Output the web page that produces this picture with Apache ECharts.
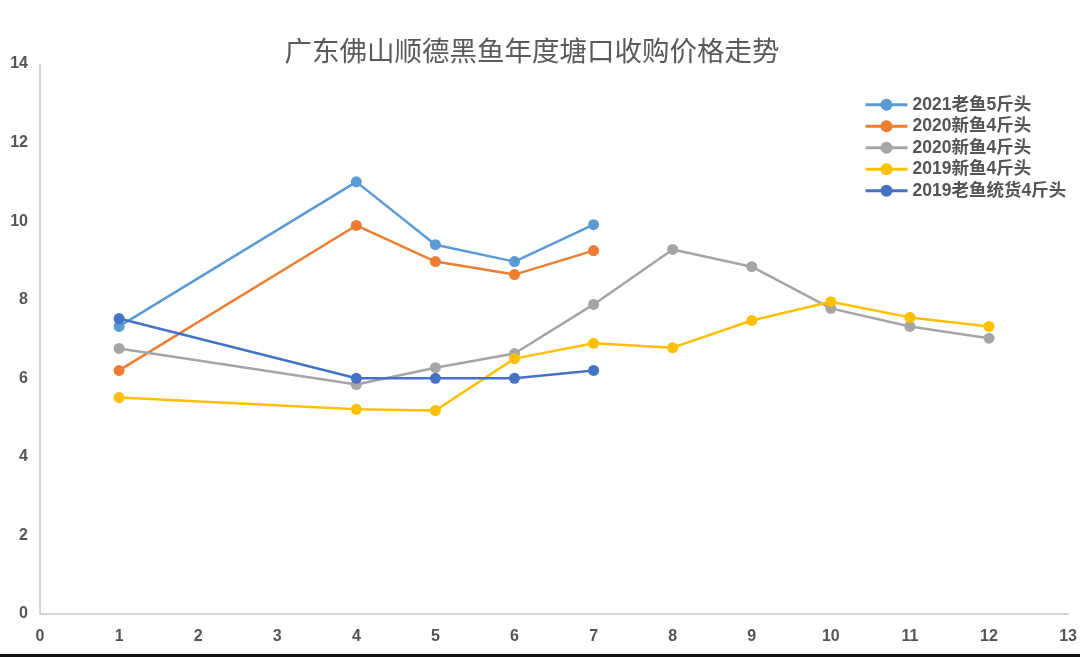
<!DOCTYPE html>
<html><head><meta charset="utf-8">
<script src="https://cdn.jsdelivr.net/npm/echarts@6/dist/echarts.min.js"></script>
<style>html,body{margin:0;padding:0;background:#fff}#c{width:1080px;height:657px}</style>
</head><body><div id="c"></div>
<script>
const seriesNames = ['2021老鱼5斤头','2020新鱼4斤头','2020新鱼4斤头','2019新鱼4斤头','2019老鱼统货4斤头'];
const colors = ['#5B9BD5','#ED7D31','#A5A5A5','#FFC000','#4472C4'];
const xs2021 = [1,4,5,6,7];
const v2021old5 = [7.32,11.0,9.4,8.97,9.91];
const xs2020a = [1,4,5,6,7];
const v2020new4a = [6.2,9.89,8.97,8.64,9.25];
const xs2020b = [1,4,5,6,7,8,9,10,11,12];
const v2020new4b = [6.76,5.84,6.27,6.63,7.88,9.28,8.84,7.78,7.32,7.02];
const xs2019 = [1,4,5,6,7,8,9,10,11,12];
const v2019new4 = [5.51,5.21,5.18,6.5,6.89,6.78,7.47,7.95,7.55,7.32];
const xs2019old = [1,4,5,6,7];
const v2019old4 = [7.52,6.0,6.0,6.0,6.2];

const xList = [xs2021, xs2020a, xs2020b, xs2019, xs2019old];
const vList = [v2021old5, v2020new4a, v2020new4b, v2019new4, v2019old4];

const chart = echarts.init(document.getElementById('c'));
const font = "'Noto Sans CJK SC', 'Noto Sans', sans-serif";
const latin = "'Liberation Sans', 'Noto Sans CJK SC', sans-serif";
chart.setOption({
  animation: false,
  backgroundColor: '#fff',
  title: {
    text: '广东佛山顺德黑鱼年度塘口收购价格走势',
    left: 527, top: 32, textAlign: 'center',
    textStyle: {fontFamily: font, fontSize: 27.5, fontWeight: 'normal', color: '#5a5a5a'}
  },
  legend: {
    orient: 'vertical', left: 859, top: 91, itemGap: 4,
    itemWidth: 42, itemHeight: 15,
    lineStyle: {width: 3},
    textStyle: {fontFamily: latin, fontSize: 17.5, fontWeight: 'bold', color: '#555'},
    data: seriesNames.map((n,i)=>({name: n + (i===2?'\u200b':'')}))
  },
  grid: {left: 40, right: 7, top: 64, bottom: 43},
  xAxis: {
    type: 'value', min: 0, max: 13, interval: 1,
    axisLine: {show: true, lineStyle: {color: '#C8C8C8', width: 1.5}},
    axisTick: {show: false}, splitLine: {show: false},
    axisLabel: {fontFamily: latin, fontSize: 16, fontWeight: 'bold', color: '#555', margin: 15}
  },
  yAxis: {
    type: 'value', min: 0, max: 14, interval: 2,
    axisLine: {show: true, lineStyle: {color: '#C8C8C8', width: 1.5}},
    axisTick: {show: false}, splitLine: {show: false},
    axisLabel: {fontFamily: latin, fontSize: 16, fontWeight: 'bold', color: '#555', margin: 12}
  },
  series: seriesNames.map((n,i)=>({
    name: n + (i===2?'\u200b':''),
    type: 'line',
    data: xList[i].map((x,j)=>[x, vList[i][j]]),
    symbol: 'circle', symbolSize: 11,
    lineStyle: {color: colors[i], width: 2.5},
    itemStyle: {color: colors[i]},
    z: 2 + i
  })),
  graphic: [{type: 'rect', shape: {x: 0, y: 654, width: 1080, height: 3}, style: {fill: '#111'}}]
});
</script></body></html>
